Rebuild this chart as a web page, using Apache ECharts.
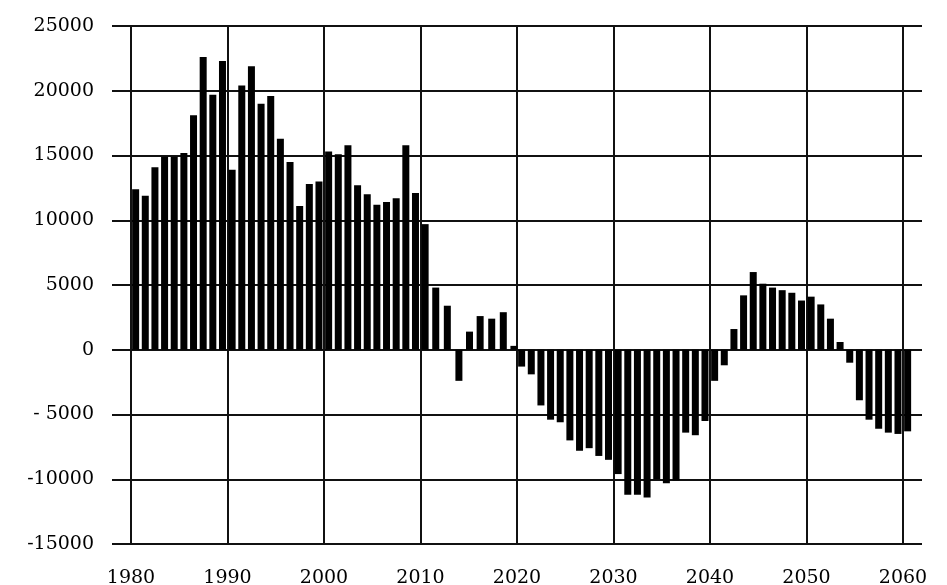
<!DOCTYPE html>
<html>
<head>
<meta charset="utf-8">
<script src="https://cdn.jsdelivr.net/npm/echarts@6.0.0/dist/echarts.min.js"></script>
<style>
html,body{margin:0;padding:0;background:#fff;}
#c{width:947px;height:585px;}
</style>
</head>
<body>
<div id="c"></div>
<script>
// Bar positions (years; the 2010s hold nine evenly spread bars)
const barYears = [
  1980,1981,1982,1983,1984,1985,1986,1987,1988,1989,
  1990,1991,1992,1993,1994,1995,1996,1997,1998,1999,
  2000,2001,2002,2003,2004,2005,2006,2007,2008,2009,
  2010,2011.1,2012.3,2013.5,2014.6,2015.7,2016.9,2018.1,2019.2,
  2020,2021,2022,2023,2024,2025,2026,2027,2028,2029,
  2030,2031,2032,2033,2034,2035,2036,2037,2038,2039,
  2040,2041,2042,2043,2044,2045,2046,2047,2048,2049,
  2050,2051,2052,2053,2054,2055,2056,2057,2058,2059,
  2060
];
const barValues = [
  12400,11900,14100,14900,14900,15200,18100,22600,19700,22300,
  13900,20400,21900,19000,19600,16300,14500,11100,12800,13000,
  15300,15100,15800,12700,12000,11200,11400,11700,15800,12100,
  9700,4800,3400,-2400,1400,2600,2400,2900,300,
  -1300,-1900,-4300,-5400,-5600,-7000,-7800,-7600,-8200,-8500,
  -9600,-11200,-11200,-11400,-10000,-10300,-10100,-6400,-6600,-5500,
  -2400,-1200,1600,4200,6000,5100,4800,4600,4400,3800,
  4100,3500,2400,600,-1000,-3900,-5400,-6100,-6400,-6500,
  -6300
];
const xTickValues = [1980,1990,2000,2010,2020,2030,2040,2050,2060];
const xTickLabels = ['1980','1990','2000','2010','2020','2030','2040','2050','2060'];
const yTickValues = [-15000,-10000,-5000,0,5000,10000,15000,20000,25000];
const yTickLabels = ['-15000','-10000','- 5000','0','5000','10000','15000','20000','25000'];

const FONT = 'DejaVu Serif';
const LINE = '#111';

const chart = echarts.init(document.getElementById('c'), null, {renderer: 'canvas'});
chart.setOption({
  animation: false,
  backgroundColor: '#fff',
  grid: [
    {left: 131, top: 26, width: 772, height: 518, outerBoundsMode: 'none', containLabel: false},
    {left: 131, top: 26, width: 791, height: 518, outerBoundsMode: 'none', containLabel: false}
  ],
  xAxis: [
    {
      gridIndex: 0, type: 'value', min: 1980, max: 2060, interval: 10,
      axisLine: {show: false}, axisTick: {show: false},
      splitLine: {show: true, lineStyle: {color: LINE, width: 2}},
      axisLabel: {
        fontFamily: FONT, fontSize: 19, color: '#000', margin: 25,
        formatter: function (v) { const i = xTickValues.indexOf(v); return i >= 0 ? xTickLabels[i] : ''; }
      }
    },
    {
      gridIndex: 1, type: 'value', min: 0, max: 1,
      axisLine: {show: false}, axisTick: {show: false}, axisLabel: {show: false}, splitLine: {show: false}
    },
    {gridIndex: 0, type: 'value', min: 1979.52, max: 2059.52, show: false}
  ],
  yAxis: [
    {
      gridIndex: 0, type: 'value', min: -15000, max: 25000, interval: 5000,
      axisLine: {show: true, lineStyle: {color: LINE, width: 2}},
      axisTick: {show: true, inside: false, length: 19, lineStyle: {color: LINE, width: 2}},
      splitLine: {show: false},
      axisLabel: {
        fontFamily: FONT, fontSize: 19, color: '#000', margin: 37,
        formatter: function (v) { const i = yTickValues.indexOf(v); return i >= 0 ? yTickLabels[i] : ''; }
      }
    },
    {
      gridIndex: 1, type: 'value', min: -15000, max: 25000, interval: 5000, position: 'left',
      axisLine: {show: false}, axisTick: {show: false}, axisLabel: {show: false},
      splitLine: {show: true, lineStyle: {color: LINE, width: 2}}
    }
  ],
  series: [
    {
      type: 'line',
      xAxisIndex: 1, yAxisIndex: 1,
      data: [[0, 0]],
      showSymbol: false, symbolSize: 0,
      lineStyle: {opacity: 0},
      silent: true, z: 0
    },
    {
      type: 'bar',
      xAxisIndex: 2, yAxisIndex: 0,
      data: barYears.map(function (y, i) { return [y, barValues[i]]; }),
      barWidth: 7,
      clip: false,
      z: 5,
      itemStyle: {color: '#000'}
    }
  ]
});
</script>
</body>
</html>
